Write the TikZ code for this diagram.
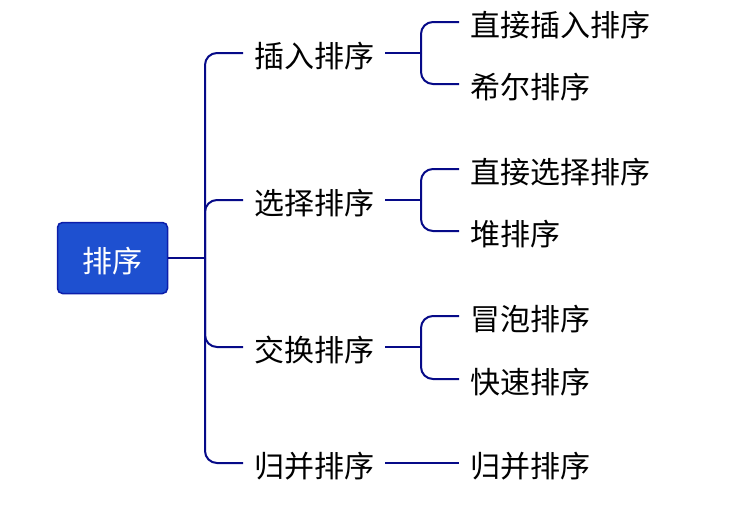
\documentclass[tikz,border=0pt]{standalone}
\usepackage{fontspec}
\setmainfont{Noto Sans CJK SC}
\definecolor{linec}{RGB}{6,10,136}
\definecolor{rootfill}{RGB}{30,80,208}
\definecolor{rootdraw}{RGB}{12,30,170}
\begin{document}
\begin{tikzpicture}[x=1pt,y=-1pt,
  conn/.style={draw=linec,line width=2pt,rounded corners=12pt},
  rootbox/.style={draw=rootdraw,line width=1.5pt,fill=rootfill,rounded corners=5pt,
    minimum width=110pt,minimum height=71pt,text=white,inner sep=0pt,
    text height=28pt,text depth=0pt,
    font=\fontsize{30}{35}\selectfont},
  lbl/.style={anchor=west,inner xsep=11pt,inner ysep=0pt,text=black,
    text height=28pt,text depth=0pt,
    font=\fontsize{30}{35}\selectfont}]
\useasboundingbox (0,0) rectangle (732,514);
\node[rootbox] (root) at (112.5,258) {排序};
\coordinate (j0) at (205,258);
\node[lbl] (ins) at (243,53) {插入排序};
\node[lbl] (sel) at (243,200) {选择排序};
\node[lbl] (swp) at (243,347) {交换排序};
\node[lbl] (mrg) at (243,463) {归并排序};
\coordinate (j1) at (421,53);
\coordinate (j2) at (421,200);
\coordinate (j3) at (421,347);
\node[lbl] (c1) at (459,22) {直接插入排序};
\node[lbl] (c2) at (459,84) {希尔排序};
\node[lbl] (c3) at (459,169) {直接选择排序};
\node[lbl] (c4) at (459,231) {堆排序};
\node[lbl] (c5) at (459,316) {冒泡排序};
\node[lbl] (c6) at (459,379) {快速排序};
\node[lbl] (c7) at (459,463) {归并排序};
\draw[conn] (root.east) -- (j0);
\draw[conn] (j0) |- (ins.west);
\draw[conn] (j0) |- (sel.west);
\draw[conn] (j0) |- (swp.west);
\draw[conn] (j0) |- (mrg.west);
\draw[conn] (ins.east) -- (j1);
\draw[conn] (j1) |- (c1.west);
\draw[conn] (j1) |- (c2.west);
\draw[conn] (sel.east) -- (j2);
\draw[conn] (j2) |- (c3.west);
\draw[conn] (j2) |- (c4.west);
\draw[conn] (swp.east) -- (j3);
\draw[conn] (j3) |- (c5.west);
\draw[conn] (j3) |- (c6.west);
\draw[conn] (mrg.east) -- (c7.west);
\end{tikzpicture}
\end{document}
